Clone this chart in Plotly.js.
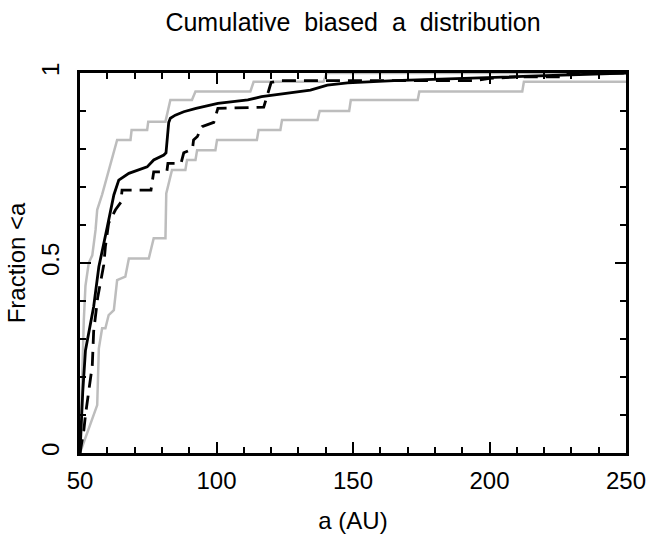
<!DOCTYPE html>
<html>
<head>
<meta charset="utf-8">
<script src="https://cdn.plot.ly/plotly-3.0.1.min.js"></script>
<style>html,body{margin:0;padding:0;background:#fff;}#chart{width:649px;height:538px;}</style>
</head>
<body>
<div id="chart"></div>
<script>
// Solid black: cumulative biased a distribution
const aSolid = [50, 50.5, 51, 52, 55, 56.9, 58.1, 60, 62.4, 64.2, 67.9, 74.6, 77, 80.7, 81.5, 82.5, 83.1, 84.9, 88, 92.5, 100.5, 111.5, 116.5, 127, 134.4, 140.6, 148, 165.1, 189.7, 214.3, 238.8, 250];
const fSolid = [0, 0.08, 0.16, 0.27, 0.385, 0.49, 0.534, 0.595, 0.679, 0.718, 0.736, 0.753, 0.771, 0.784, 0.79, 0.87, 0.881, 0.889, 0.898, 0.907, 0.92, 0.929, 0.938, 0.947, 0.955, 0.968, 0.974, 0.98, 0.986, 0.992, 0.999, 1];

// Dashed black
const aDash = [50, 51.4, 52, 53.2, 54.5, 55, 56.5, 58.7, 59.3, 60.5, 63, 65, 65.4, 76, 76.4, 77, 81.8, 82.2, 87, 88, 91.2, 91.6, 93, 94.7, 99, 99.6, 100.5, 117.3, 119, 120, 123, 195, 200, 212, 228, 229, 250];
const fDash = [0, 0.06, 0.1, 0.17, 0.23, 0.32, 0.41, 0.495, 0.543, 0.605, 0.64, 0.66, 0.692, 0.692, 0.718, 0.74, 0.74, 0.762, 0.762, 0.79, 0.8, 0.824, 0.833, 0.859, 0.87, 0.885, 0.907, 0.91, 0.955, 0.975, 0.98, 0.98, 0.986, 0.99, 0.99, 1, 1];

// Upper grey envelope
const aHi = [50, 50.5, 51, 51.4, 52, 53.2, 54.5, 55.7, 56.3, 58.1, 63.6, 68.5, 68.9, 74.6, 75, 81.3, 83.1, 91, 92.3, 112.4, 113.6, 139.2, 140.4, 250];
const fHi = [0, 0.15, 0.3, 0.35, 0.44, 0.5, 0.52, 0.587, 0.64, 0.68, 0.824, 0.824, 0.85, 0.85, 0.872, 0.872, 0.929, 0.929, 0.951, 0.951, 0.977, 0.977, 1, 1];

// Lower grey envelope
const aLo = [50, 56.3, 56.9, 58.1, 59.3, 60.5, 62.4, 63.6, 66.6, 67.9, 75.2, 77, 81.3, 81.6, 83.7, 88.6, 89.2, 92.3, 92.9, 99.6, 100.2, 114.8, 115.4, 123.4, 124, 137, 137.8, 148.6, 149.2, 173.7, 174.3, 212, 212.6, 250];
const fLo = [0, 0.126, 0.275, 0.328, 0.328, 0.363, 0.376, 0.455, 0.464, 0.512, 0.512, 0.565, 0.565, 0.683, 0.745, 0.745, 0.771, 0.771, 0.797, 0.797, 0.824, 0.824, 0.85, 0.85, 0.876, 0.876, 0.9, 0.9, 0.929, 0.929, 0.951, 0.951, 0.977, 0.977];

const xTicks = [50, 100, 150, 200, 250];
const yTicks = [0, 0.5, 1];
const yTickText = ['0', '0.5', '1'];

const grey = '#bdbdbd';
const traces = [
  {x: aHi, y: fHi, mode: 'lines', line: {color: grey, width: 2.5}},
  {x: aLo, y: fLo, mode: 'lines', line: {color: grey, width: 2.5}},
  {x: aDash, y: fDash, mode: 'lines', line: {color: '#000', width: 2.8, dash: '14px,8px'}},
  {x: aSolid, y: fSolid, mode: 'lines', line: {color: '#000', width: 2.8}}
];

const fontFam = 'Liberation Sans, Arial, sans-serif';
const layout = {
  width: 649, height: 538,
  margin: {l: 80, r: 23, t: 73, b: 85},
  paper_bgcolor: '#fff', plot_bgcolor: '#fff',
  showlegend: false,
  font: {family: fontFam, size: 24, color: '#000'},
  title: {text: 'Cumulative&#160; biased&#160; a&#160; distribution', x: 0.5, xref: 'paper', xanchor: 'center',
          y: 1 - 22/538, yref: 'container', yanchor: 'middle', font: {family: fontFam, size: 25, color: '#000'}},
  xaxis: {
    range: [50, 250], showgrid: false, zeroline: false,
    showline: true, linecolor: '#000', linewidth: 3, mirror: 'ticks',
    ticks: 'inside', ticklen: 11, tickwidth: 2, tickcolor: '#000',
    tickmode: 'array', tickvals: xTicks, ticktext: xTicks.map(String),
    tickfont: {family: fontFam, size: 24, color: '#000'},
    ticklabelstandoff: 4,
    minor: {dtick: 10, ticks: 'inside', ticklen: 6, tickwidth: 2, tickcolor: '#000', showgrid: false},
    title: {text: 'a (AU)', standoff: 20, font: {family: fontFam, size: 24, color: '#000'}}
  },
  yaxis: {
    range: [0, 1], showgrid: false, zeroline: false,
    showline: true, linecolor: '#000', linewidth: 3, mirror: 'ticks',
    ticks: 'inside', ticklen: 11, tickwidth: 2, tickcolor: '#000',
    tickmode: 'array', tickvals: yTicks, ticktext: yTickText, tickangle: -90,
    tickfont: {family: fontFam, size: 24, color: '#000'},
    ticklabelstandoff: 8,
    minor: {dtick: 0.1, ticks: 'inside', ticklen: 6, tickwidth: 2, tickcolor: '#000', showgrid: false},
    title: {text: 'Fraction &lt;a', standoff: 6, font: {family: fontFam, size: 24, color: '#000'}}
  }
};

Plotly.newPlot('chart', traces, layout, {staticPlot: true, displayModeBar: false});
</script>
</body>
</html>
